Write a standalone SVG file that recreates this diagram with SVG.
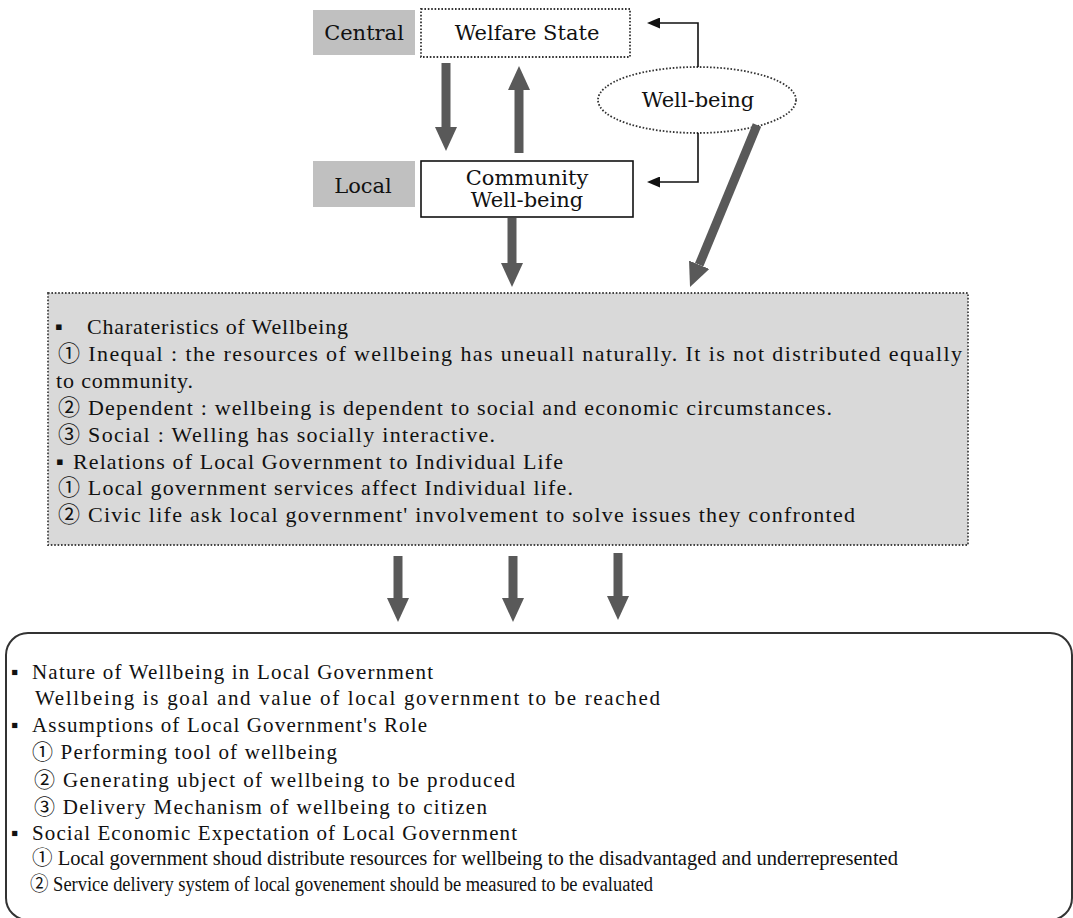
<svg xmlns="http://www.w3.org/2000/svg" width="1073" height="918" viewBox="0 0 1073 918">
  <style>
    .lbl { font-family: "DejaVu Serif", "Liberation Serif", "Noto Sans CJK KR", serif; font-size: 21px; fill: #111; text-anchor: middle; }
    .tx { font-family: "Liberation Serif", "DejaVu Serif", "Noto Sans CJK KR", serif; font-size: 22px; fill: #111; }
    .tx2 { font-family: "Liberation Serif", "DejaVu Serif", "Noto Sans CJK KR", serif; font-size: 21px; fill: #111; }
    .tx3 { font-family: "Liberation Serif", "DejaVu Serif", "Noto Sans CJK KR", serif; font-size: 20px; fill: #111; }
    .tag { fill: #c0c0c0; }
    .dot { fill: #fff; stroke: #333; stroke-width: 1.8; stroke-dasharray: 1.6 1.8; }
    .fat { stroke: #595959; stroke-width: 9; fill: none; marker-end: url(#fatHead); }
    .thin { stroke: #111; stroke-width: 1.6; fill: none; marker-end: url(#thinHead); }
  </style>
  <defs>
    <marker id="fatHead" markerUnits="userSpaceOnUse" markerWidth="24" markerHeight="22" viewBox="0 0 24 22" refX="0" refY="11" orient="auto">
      <path d="M0,0 L24,11 L0,22 z" fill="#595959"/>
    </marker>
    <marker id="thinHead" markerUnits="userSpaceOnUse" markerWidth="13" markerHeight="11" viewBox="0 0 13 11" refX="0" refY="5.5" orient="auto">
      <path d="M0,0 L13,5.5 L0,11 z" fill="#111"/>
    </marker>
  </defs>

  <rect width="1073" height="918" fill="#fff"/>

  <!-- level tags -->
  <g id="tag-central">
    <rect class="tag" x="313" y="10" width="102" height="45"/>
    <text class="lbl" x="364" y="40">Central</text>
  </g>
  <g id="tag-local">
    <rect class="tag" x="313" y="161" width="102" height="46"/>
    <text class="lbl" x="363" y="193">Local</text>
  </g>

  <!-- nodes -->
  <g id="welfare-state">
    <rect class="dot" x="421" y="9" width="209" height="48"/>
    <text class="lbl" x="527" y="40" font-size="22">Welfare State</text>
  </g>
  <g id="community-wellbeing">
    <rect x="421" y="161" width="212" height="56" fill="#fff" stroke="#111" stroke-width="1.6"/>
    <text class="lbl" x="527" y="185">Community</text>
    <text class="lbl" x="527" y="207">Well-being</text>
  </g>
  <g id="wellbeing">
    <ellipse class="dot" cx="697" cy="100" rx="99" ry="33"/>
    <text class="lbl" x="698" y="107">Well-being</text>
  </g>

  <g id="characteristics">
    <rect x="48" y="293" width="920" height="252" fill="#d9d9d9" stroke="#444" stroke-width="1.8" stroke-dasharray="1.6 1.8"/>
    <text class="tx" x="55" y="334">▪</text>
    <text class="tx" x="87" y="334" textLength="261" lengthAdjust="spacing">Charateristics of Wellbeing</text>
    <text class="tx" x="58" y="361" textLength="904" lengthAdjust="spacing">① Inequal : the resources of wellbeing has uneuall naturally. It is not distributed equally</text>
    <text class="tx" x="56" y="388" textLength="137" lengthAdjust="spacing">to community.</text>
    <text class="tx" x="58" y="415" textLength="774" lengthAdjust="spacing">② Dependent : wellbeing is dependent to social and economic circumstances.</text>
    <text class="tx" x="58" y="442" textLength="437" lengthAdjust="spacing">③ Social : Welling has socially interactive.</text>
    <text class="tx" x="56" y="469">▪</text>
    <text class="tx" x="73" y="469" textLength="490" lengthAdjust="spacing">Relations of Local Government to Individual Life</text>
    <text class="tx" x="58" y="495" textLength="515" lengthAdjust="spacing">① Local government services affect Individual life.</text>
    <text class="tx" x="58" y="522" textLength="797" lengthAdjust="spacing">② Civic life ask local government' involvement to solve issues they confronted</text>
  </g>

  <g id="local-government">
    <rect x="6" y="633" width="1066" height="287" rx="22" ry="22" fill="#fff" stroke="#333" stroke-width="2"/>
    <text class="tx2" x="11" y="679">▪</text>
    <text class="tx2" x="32" y="679" textLength="401" lengthAdjust="spacing">Nature of Wellbeing in Local Government</text>
    <text class="tx2" x="35" y="705" textLength="625" lengthAdjust="spacing">Wellbeing is goal and value of local government to be reached</text>
    <text class="tx2" x="11" y="732">▪</text>
    <text class="tx2" x="32" y="732" textLength="395" lengthAdjust="spacing">Assumptions of Local Government's Role</text>
    <text class="tx2" x="32" y="759" textLength="305" lengthAdjust="spacing">① Performing tool of wellbeing</text>
    <text class="tx2" x="34" y="787" textLength="481" lengthAdjust="spacing">② Generating ubject of wellbeing to be produced</text>
    <text class="tx2" x="34" y="814" textLength="453" lengthAdjust="spacing">③ Delivery Mechanism of wellbeing to citizen</text>
    <text class="tx2" x="11" y="840">▪</text>
    <text class="tx2" x="32" y="840" textLength="485" lengthAdjust="spacing">Social Economic Expectation of Local Government</text>
    <text class="tx3" x="32" y="865" textLength="866" lengthAdjust="spacingAndGlyphs">① Local government shoud distribute resources for wellbeing to the disadvantaged and underrepresented</text>
    <text class="tx3" x="30" y="891" textLength="623" lengthAdjust="spacingAndGlyphs">② Service delivery system of local govenement should be measured to be evaluated</text>
  </g>

  <!-- connectors -->
  <g id="connectors">
    <line class="fat" x1="446" y1="63" x2="446" y2="127"/>
    <line class="fat" x1="519" y1="153" x2="519" y2="90"/>
    <line class="fat" x1="512" y1="218" x2="512" y2="263"/>
    <line class="fat" x1="757" y1="125" x2="699.2" y2="264.8"/>
    <line class="fat" x1="398" y1="556" x2="398" y2="598"/>
    <line class="fat" x1="513" y1="556" x2="513" y2="598"/>
    <line class="fat" x1="618" y1="553" x2="618" y2="596"/>
    <polyline class="thin" points="698,67 698,23 660,23"/>
    <polyline class="thin" points="698,133 698,182 660,182"/>
  </g>
</svg>
